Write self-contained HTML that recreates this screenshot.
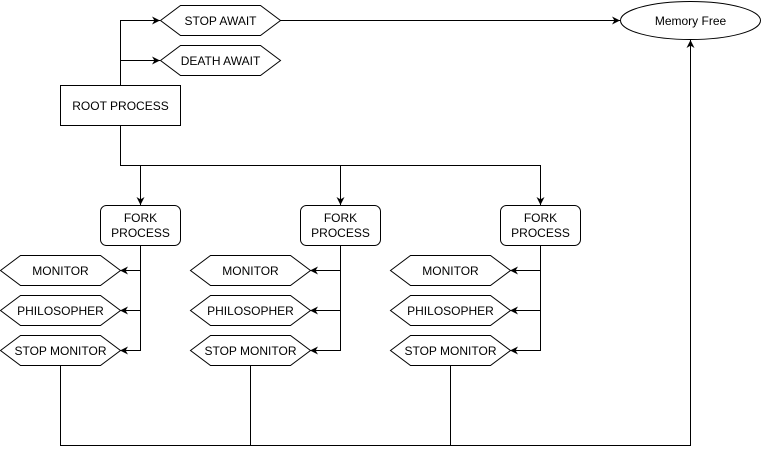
<!DOCTYPE html>
<html><head><meta charset="utf-8"><style>
html,body{margin:0;padding:0;background:#fff;}
svg{display:block;}
text{font-family:"Liberation Sans",Arial,sans-serif;font-size:12px;fill:#000;}
</style></head><body>
<svg width="762" height="454" viewBox="0 0 762 454" xmlns="http://www.w3.org/2000/svg">
<defs>
<marker id="a" viewBox="0 0 10 10" refX="10" refY="5" markerWidth="8" markerHeight="8" markerUnits="userSpaceOnUse" orient="auto">
<path d="M0,0 L10,5 L0,10 L3,5 Z" fill="#000"/>
</marker>
</defs>
<g fill="none" stroke="#000" stroke-width="1">
<!-- root connections -->
<path d="M120.5,85 V20.5 H160" marker-end="url(#a)"/>
<path d="M120.5,60.5 H160" marker-end="url(#a)"/>
<path d="M280,20.5 H620" marker-end="url(#a)"/>
<path d="M120.5,125 V165.5 H540.5 V205" marker-end="url(#a)"/>
<path d="M140.5,165.5 V205" marker-end="url(#a)"/>
<path d="M340.5,165.5 V205" marker-end="url(#a)"/>
<!-- fork branches -->
<path d="M140.5,245 V350.5 H120" marker-end="url(#a)"/>
<path d="M140.5,270.5 H120" marker-end="url(#a)"/>
<path d="M140.5,310.5 H120" marker-end="url(#a)"/>
<path d="M340.5,245 V350.5 H310" marker-end="url(#a)"/>
<path d="M340.5,270.5 H310" marker-end="url(#a)"/>
<path d="M340.5,310.5 H310" marker-end="url(#a)"/>
<path d="M540.5,245 V350.5 H510" marker-end="url(#a)"/>
<path d="M540.5,270.5 H510" marker-end="url(#a)"/>
<path d="M540.5,310.5 H510" marker-end="url(#a)"/>
<!-- bottom -->
<path d="M60.5,365 V445.5 H690.5 V40" marker-end="url(#a)"/>
<path d="M250.5,365 V445.5"/>
<path d="M450.5,365 V445.5"/>
<!-- shapes -->
<polygon points="160.5,20.5 180.5,5.5 260.5,5.5 280.5,20.5 260.5,35.5 180.5,35.5" fill="#fff"/>
<polygon points="160.5,60.5 180.5,45.5 260.5,45.5 280.5,60.5 260.5,75.5 180.5,75.5" fill="#fff"/>
<rect x="60.5" y="85.5" width="120" height="40" fill="#fff"/>
<ellipse cx="690.5" cy="20.5" rx="70" ry="19" fill="#fff"/>
<rect x="100.5" y="205.5" width="80" height="40" rx="6" fill="#fff"/>
<rect x="300.5" y="205.5" width="80" height="40" rx="6" fill="#fff"/>
<rect x="500.5" y="205.5" width="80" height="40" rx="6" fill="#fff"/>
<g id="c1">
<polygon points="0.5,270.5 20.5,255.5 100.5,255.5 120.5,270.5 100.5,285.5 20.5,285.5" fill="#fff"/>
<polygon points="0.5,310.5 20.5,295.5 100.5,295.5 120.5,310.5 100.5,325.5 20.5,325.5" fill="#fff"/>
<polygon points="0.5,350.5 20.5,335.5 100.5,335.5 120.5,350.5 100.5,365.5 20.5,365.5" fill="#fff"/>
</g>
<use href="#c1" x="190"/>
<use href="#c1" x="390"/>
</g>
<g text-anchor="middle">
<text x="220.5" y="25">STOP AWAIT</text>
<text x="220.5" y="65">DEATH AWAIT</text>
<text x="120.5" y="110">ROOT PROCESS</text>
<text x="690.5" y="25">Memory Free</text>
<text x="140.5" y="222">FORK</text><text x="140.5" y="237">PROCESS</text>
<text x="340.5" y="222">FORK</text><text x="340.5" y="237">PROCESS</text>
<text x="540.5" y="222">FORK</text><text x="540.5" y="237">PROCESS</text>
<text x="60.5" y="275">MONITOR</text>
<text x="60.5" y="315">PHILOSOPHER</text>
<text x="60.5" y="355">STOP MONITOR</text>
<text x="250.5" y="275">MONITOR</text>
<text x="250.5" y="315">PHILOSOPHER</text>
<text x="250.5" y="355">STOP MONITOR</text>
<text x="450.5" y="275">MONITOR</text>
<text x="450.5" y="315">PHILOSOPHER</text>
<text x="450.5" y="355">STOP MONITOR</text>
</g>
</svg>
</body></html>
